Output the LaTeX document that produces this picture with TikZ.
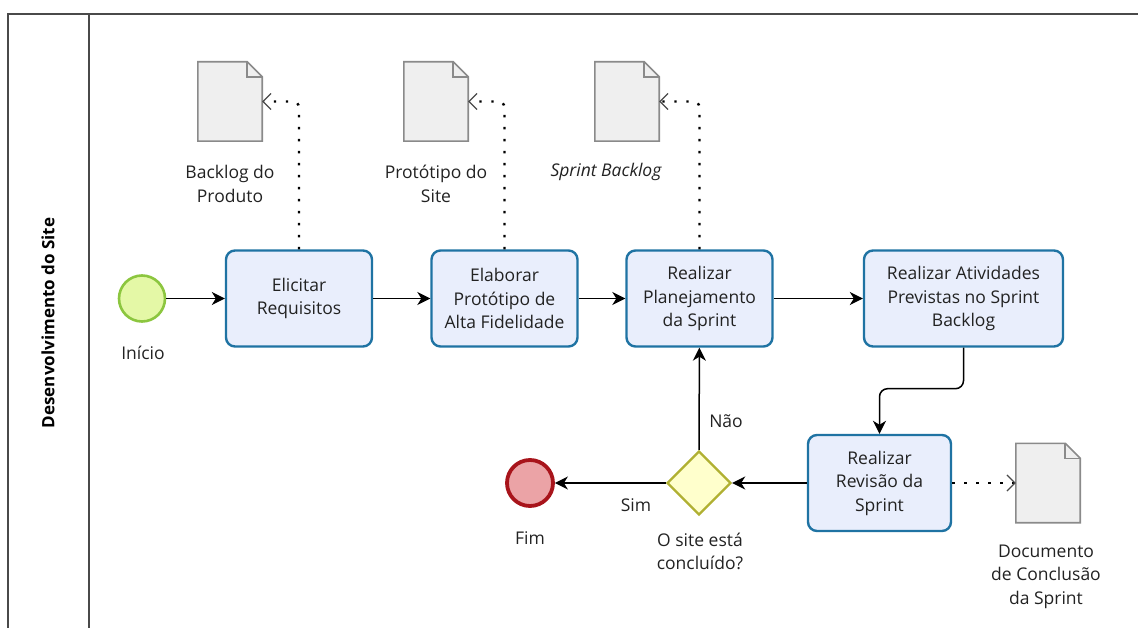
\documentclass[tikz,border=0pt]{standalone}
\usepackage{fontspec}
\setmainfont{Open Sans}
\usetikzlibrary{arrows.meta,shapes.geometric}
\definecolor{taskfill}{HTML}{E9EEFC}
\definecolor{taskline}{HTML}{1F73A3}
\definecolor{startfill}{HTML}{E4F8A6}
\definecolor{startline}{HTML}{8CC63F}
\definecolor{endfill}{HTML}{EBA3A6}
\definecolor{endline}{HTML}{A8141B}
\definecolor{gatefill}{HTML}{FFFFCC}
\definecolor{gateline}{HTML}{B0B032}
\definecolor{docfill}{HTML}{EFEFEF}
\definecolor{docline}{HTML}{8A8A8A}
\definecolor{poolline}{HTML}{4A4A4A}
\definecolor{ink}{HTML}{222222}

% document artefact: invisible node plus outline with folded corner
\newcommand{\docshape}[3]{%
  \node[docbox] (#1) at (#2,#3) {};
  \draw[docoutline] (#1.south west) -- (#1.north west) -- ([xshift=-15pt]#1.north east)
    -- ([yshift=-15pt]#1.north east) -- (#1.south east) -- cycle;
  \draw[docoutline,fill=none] ([xshift=-15pt]#1.north east) |- ([yshift=-15pt]#1.north east);
}

\begin{document}
\begin{tikzpicture}[x=1pt,y=-1pt,
  lbl/.style={font=\fontsize{17.5}{23.5}\selectfont, text=ink, align=center, inner sep=0pt},
  task/.style={lbl, rectangle, rounded corners=9pt, draw=taskline, fill=taskfill,
    line width=2.4pt, minimum width=146pt, minimum height=96pt},
  docbox/.style={rectangle, minimum width=64pt, minimum height=79pt, inner sep=0pt},
  docoutline/.style={draw=docline, fill=docfill, line width=1.6pt, line join=miter},
  flow/.style={draw=black, line width=1.5pt,
    -{Stealth[length=13pt,width=13pt,inset=4pt]}},
  assoc/.style={draw=black, line width=2.4pt, dash pattern=on 2.4pt off 9.6pt,
    rounded corners=6pt,
    -{Straight Barb[length=8pt,width=16pt,line width=1.2pt,color=poolline]}},
  pool/.style={draw=poolline, line width=1.6pt},
]
\useasboundingbox (0,0) rectangle (1138,628);

% pool and lane
\draw[pool] (1138,14) -- (8,14) -- (8,628);
\draw[pool] (89,14) -- (89,628);
\node[rotate=90, font=\bfseries\fontsize{17}{20}\selectfont, text=black] (lane) at (48,323) {Desenvolvimento do Site};

% events
\node[circle, draw=startline, fill=startfill, line width=2.6pt, minimum size=46pt, inner sep=0pt] (start) at (142,298.5) {};
\node[lbl] (startlbl) at (143,353) {Início};
\node[circle, draw=endline, fill=endfill, line width=3.8pt, minimum size=46pt, inner sep=0pt] (end) at (530,483) {};
\node[lbl] (endlbl) at (530,538) {Fim};

% tasks
\node[task] (t1) at (299,298.5) {Elicitar\\Requisitos};
\node[task] (t2) at (504.5,298.5) {Elaborar\\Protótipo de\\Alta Fidelidade};
\node[task] (t3) at (699.5,298.5) {Realizar\\Planejamento\\da Sprint};
\node[task, minimum width=199pt] (t4) at (963.5,298.5) {Realizar Atividades\\Previstas no Sprint\\Backlog};
\node[task, minimum width=143pt] (t5) at (879.5,483) {Realizar\\Revisão da\\Sprint};

% gateway
\node[diamond, aspect=1, draw=gateline, fill=gatefill, line width=2.4pt, minimum width=64pt, minimum height=64pt, inner sep=0pt] (gw) at (699,483) {};
\node[lbl] (gwlbl) at (700,551.5) {O site está\\concluído?};
\node[lbl] (yes) at (636,505) {Sim};
\node[lbl] (no) at (726,421) {Não};

% documents
\docshape{d1}{230}{101.5}
\docshape{d2}{436}{101.5}
\docshape{d3}{627}{101.5}
\docshape{d4}{1048}{483}
\node[lbl] (d1lbl) at (230,184) {Backlog do\\Produto};
\node[lbl] (d2lbl) at (436,184) {Protótipo do\\Site};
\node[lbl, font=\itshape\fontsize{17.5}{23.5}\selectfont] (d3lbl) at (606,172) {Sprint Backlog};
\node[lbl] (d4lbl) at (1046,576.5) {Documento\\de Conclusão\\da Sprint};

% sequence flows
\draw[flow] (start) -- (t1);
\draw[flow] (t1) -- (t2);
\draw[flow] (t2) -- (t3);
\draw[flow] (t3) -- (t4);
\draw[flow, rounded corners=8pt] (t4.south) -- ++(0,41) -| (t5.north);
\draw[flow] (t5) -- (gw);
\draw[flow] (gw) -- (end);
\draw[flow] (gw) -- (t3);

% data associations
\draw[assoc] (t1.north) |- (d1.east);
\draw[assoc] (t2.north) |- (d2.east);
\draw[assoc] (t3.north) |- (d3.east);
\draw[assoc] (t5.east) -- (d4.west);
\end{tikzpicture}
\end{document}
